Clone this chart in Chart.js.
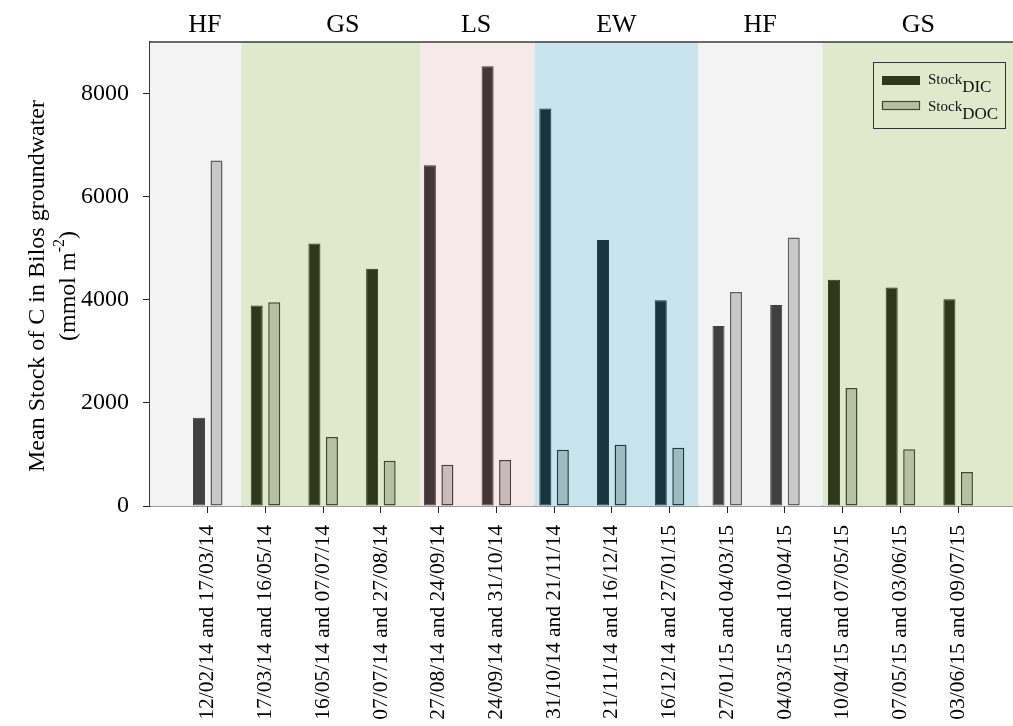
<!DOCTYPE html>
<html><head><meta charset="utf-8">
<script src="https://cdn.jsdelivr.net/npm/chart.js@4/dist/chart.umd.min.js"></script>
<style>html,body{margin:0;padding:0;background:#fff}#wrap{width:1013px;height:726px;position:relative}</style>
</head><body><div id="wrap"><canvas id="c"></canvas></div>
<script>
const categories = ['12/02/14 and 17/03/14','17/03/14 and 16/05/14','16/05/14 and 07/07/14','07/07/14 and 27/08/14','27/08/14 and 24/09/14','24/09/14 and 31/10/14','31/10/14 and 21/11/14','21/11/14 and 16/12/14','16/12/14 and 27/01/15','27/01/15 and 04/03/15','04/03/15 and 10/04/15','10/04/15 and 07/05/15','07/05/15 and 03/06/15','03/06/15 and 09/07/15'];
const seasons = ['HF','GS','GS','GS','LS','LS','EW','EW','EW','HF','HF','GS','GS','GS'];
const stockDIC = [1710,3890,5090,4600,6610,8530,7710,5160,3990,3490,3900,4390,4240,4010];
const stockDOC = [6700,3950,1340,880,800,890,1090,1190,1130,4150,5210,2290,1100,660];
const yTicks = [0,2000,4000,6000,8000];
const bandSeasons = ['HF','GS','LS','EW','HF','GS'];
const bandEdges = [0,1.58,4.68,6.66,9.5,11.65,14.95];
const bandLabelPos = [0.95,3.34,5.65,8.08,10.57,13.31];

const palette = {
  HF:{bg:'#f3f3f3',dic:'#404040',doc:'#c8c8c8',docB:'#5e5e5e'},
  GS:{bg:'#e0e9cc',dic:'#2f381b',doc:'#b6c1a1',docB:'#3e4a2a'},
  LS:{bg:'#f6e9e9',dic:'#423637',doc:'#c8bcbb',docB:'#4a3e3e'},
  EW:{bg:'#c9e4ed',dic:'#18343d',doc:'#9fbac1',docB:'#1f3c44'}
};
const SERIF = "'Liberation Serif','Times New Roman',serif";

const bgPlugin = {
  id:'bands',
  beforeDatasetsDraw(chart){
    const {ctx, chartArea:a, scales:{x}} = chart;
    ctx.save();
    ctx.beginPath(); ctx.rect(a.left,a.top,a.right-a.left,a.bottom-a.top); ctx.clip();
    for(let i=0;i<bandSeasons.length;i++){
      const x0=x.getPixelForValue(bandEdges[i]), x1=x.getPixelForValue(bandEdges[i+1]);
      ctx.fillStyle=palette[bandSeasons[i]].bg;
      ctx.fillRect(x0,a.top,x1-x0,a.bottom-a.top);
    }
    ctx.restore();
  },
  afterDraw(chart){
    const {ctx, chartArea:a, scales:{x}} = chart;
    ctx.save();
    ctx.strokeStyle='#3a3a3a'; ctx.lineWidth=1.5;
    ctx.beginPath(); ctx.moveTo(a.left-0.75,a.top); ctx.lineTo(a.right+2,a.top); ctx.stroke();
    ctx.fillStyle='#000'; ctx.font="26px "+SERIF; ctx.textAlign='center'; ctx.textBaseline='middle';
    bandSeasons.forEach((s,i)=>ctx.fillText(s,x.getPixelForValue(bandLabelPos[i]),25));
    ctx.save();
    ctx.translate(38,286); ctx.rotate(-Math.PI/2);
    ctx.font="24px "+SERIF; ctx.textAlign='center'; ctx.textBaseline='middle';
    ctx.fillText('Mean Stock of C in Bilos groundwater',0,0);
    ctx.restore();
    ctx.save();
    ctx.translate(69,286); ctx.rotate(-Math.PI/2);
    ctx.textBaseline='middle'; ctx.textAlign='left';
    const f1="24px "+SERIF, f2="16px "+SERIF;
    ctx.font=f1; const wA=ctx.measureText('(mmol m').width, wC=ctx.measureText(')').width;
    ctx.font=f2; const wB=ctx.measureText('-2').width;
    let sx=-(wA+wB+wC)/2;
    ctx.font=f1; ctx.fillText('(mmol m',sx,0); sx+=wA;
    ctx.font=f2; ctx.fillText('-2',sx,-9); sx+=wB;
    ctx.font=f1; ctx.fillText(')',sx,0);
    ctx.restore();
    const lx=873, ly=62, lw=132, lh=66;
    ctx.strokeStyle='#333'; ctx.lineWidth=1;
    ctx.strokeRect(lx+0.5,ly+0.5,lw,lh);
    ctx.fillStyle=palette.GS.dic; ctx.fillRect(882,76,38,9);
    ctx.fillStyle=palette.GS.doc; ctx.fillRect(882,101,38,9);
    ctx.strokeStyle=palette.GS.docB; ctx.lineWidth=1.2; ctx.strokeRect(882.5,101.5,37,8);
    ctx.fillStyle='#111'; ctx.textAlign='left'; ctx.textBaseline='alphabetic';
    const items=[['Stock','DIC',84],['Stock','DOC',111]];
    items.forEach(([a1,b1,by])=>{
      ctx.font="15px "+SERIF; ctx.fillText(a1,928,by); const w=ctx.measureText(a1).width;
      ctx.font="17px "+SERIF; ctx.fillText(b1,928+w,by+8);
    });
    ctx.restore();
  }
};

const pts = arr => arr.map((v,i)=>({x:i+1,y:v}));
new Chart(document.getElementById('c'),{
  type:'bar',
  data:{datasets:[
    {label:'StockDIC',data:pts(stockDIC),backgroundColor:seasons.map(s=>palette[s].dic),borderColor:seasons.map(s=>palette[s].dic),borderWidth:1,borderSkipped:false},
    {label:'StockDOC',data:pts(stockDOC),backgroundColor:seasons.map(s=>palette[s].doc),borderColor:seasons.map(s=>palette[s].docB),borderWidth:1.5,borderSkipped:false}
  ]},
  options:{
    responsive:true,maintainAspectRatio:false,animation:false,
    layout:{padding:{top:42,left:0,right:0,bottom:0}},
    categoryPercentage:0.607,barPercentage:0.686,
    plugins:{legend:{display:false},tooltip:{enabled:false}},
    scales:{
      x:{type:'linear',min:0,max:14.95,offset:false,
        afterBuildTicks(s){s.ticks=categories.map((c,i)=>({value:i+1}));},
        afterFit(s){s.height=220;},
        ticks:{autoSkip:false,minRotation:90,maxRotation:90,padding:12,color:'#000',font:{family:SERIF,size:21.5},
          callback:(v,i)=>categories[i]},
        grid:{offset:false,drawOnChartArea:false,drawTicks:true,tickLength:7,color:'#222',lineWidth:1},
        border:{display:true,color:'#3a3a3a',width:1.5}
      },
      y:{type:'linear',min:0,max:9000,
        afterBuildTicks(s){s.ticks=yTicks.map(v=>({value:v}));},
        afterFit(s){s.width=150;},
        ticks:{padding:14,color:'#000',font:{family:SERIF,size:24},callback:v=>String(v)},
        grid:{drawOnChartArea:false,drawTicks:true,tickLength:7,color:'#222',lineWidth:1},
        border:{display:true,color:'#3a3a3a',width:1.5}
      }
    }
  },
  plugins:[bgPlugin]
});
</script></body></html>
